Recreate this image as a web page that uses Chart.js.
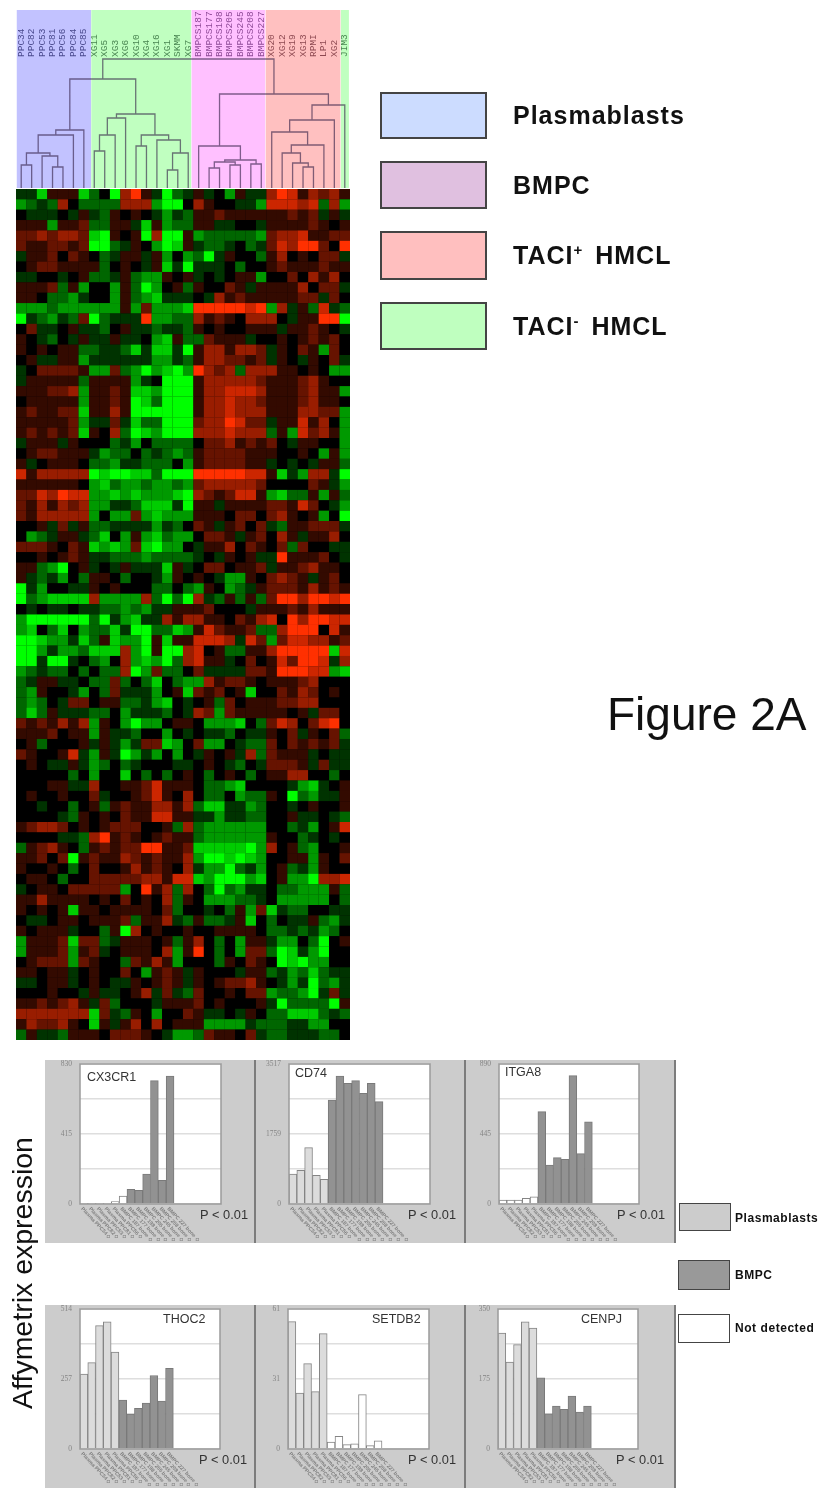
<!DOCTYPE html>
<html>
<head>
<meta charset="utf-8">
<title>Figure 2A</title>
<script src="https://cdn.jsdelivr.net/npm/chart.js@4"></script>
<style>
  html, body { margin: 0; padding: 0; background: #fff; }
  #page { position: relative; width: 818px; height: 1488px; overflow: hidden; font-family: "Liberation Sans", Arial, sans-serif; filter: blur(0.7px); }
  #page canvas { position: absolute; display: block; }
  .band { position: absolute; background: #ccc; }
  .rule { position: absolute; width: 1.5px; background: #7c7c7c; }
  .box { position: absolute; box-sizing: border-box; border: 2px solid #444; }
  .big { position: absolute; left: 513px; font-size: 25px; font-weight: bold; letter-spacing: 1px; word-spacing: 5px; line-height: 30px; color: #111; white-space: nowrap; }
  .big sup { font-size: 15px; line-height: 0; letter-spacing: 0; }
  .small { position: absolute; left: 735px; font-size: 12px; font-weight: bold; letter-spacing: 0.55px; line-height: 16px; color: #111; white-space: nowrap; }
  #figure { position: absolute; left: 607px; top: 686px; font-size: 46px; line-height: 56px; color: #111; white-space: nowrap; }
  #axisTitle { position: absolute; left: 22px; top: 1273px; font-size: 28.5px; line-height: 32px; color: #111; white-space: nowrap; transform: translate(-50%, -50%) rotate(-90deg); }
</style>
</head>
<body>
<div id="page">
  <div class="band" style="left:45px;top:1060px;width:630px;height:183px"></div>
  <div class="band" style="left:45px;top:1305px;width:630px;height:183px"></div>

  <canvas id="dendro" width="360" height="189" style="left:0;top:0"></canvas>
  <canvas id="heat" width="360" height="856" style="left:0;top:188px"></canvas>

  <div class="box" style="left:380px;top:92px;width:107px;height:47px;background:#ccdcff"></div>
  <div class="box" style="left:380px;top:161px;width:107px;height:48px;background:#e0c0e0"></div>
  <div class="box" style="left:380px;top:231px;width:107px;height:49px;background:#ffbfbf"></div>
  <div class="box" style="left:380px;top:302px;width:107px;height:48px;background:#bfffbf"></div>
  <div class="big" style="top:100px">Plasmablasts</div>
  <div class="big" style="top:170px">BMPC</div>
  <div class="big" style="top:240px">TACI<sup>+</sup> HMCL</div>
  <div class="big" style="top:311px">TACI<sup>-</sup> HMCL</div>
  <div id="figure">Figure 2A</div>
  <div id="axisTitle">Affymetrix expression</div>

  <canvas id="p1" width="209" height="183" style="left:45px;top:1060px"></canvas>
  <canvas id="p2" width="210" height="183" style="left:254px;top:1060px"></canvas>
  <canvas id="p3" width="211" height="183" style="left:464px;top:1060px"></canvas>
  <canvas id="p4" width="209" height="183" style="left:45px;top:1305px"></canvas>
  <canvas id="p5" width="210" height="183" style="left:254px;top:1305px"></canvas>
  <canvas id="p6" width="211" height="183" style="left:464px;top:1305px"></canvas>
  <div class="rule" style="left:254px;top:1060px;height:183px"></div>
  <div class="rule" style="left:464px;top:1060px;height:183px"></div>
  <div class="rule" style="left:674px;top:1060px;height:183px"></div>
  <div class="rule" style="left:254px;top:1305px;height:183px"></div>
  <div class="rule" style="left:464px;top:1305px;height:183px"></div>
  <div class="rule" style="left:674px;top:1305px;height:183px"></div>

  <div class="box" style="left:679px;top:1203px;width:52px;height:28px;background:#ccc;border-width:1.5px"></div>
  <div class="box" style="left:678px;top:1260px;width:52px;height:30px;background:#999;border-width:1.5px"></div>
  <div class="box" style="left:678px;top:1314px;width:52px;height:29px;background:#fff;border-width:1.5px"></div>
  <div class="small" style="top:1210px">Plasmablasts</div>
  <div class="small" style="top:1267px">BMPC</div>
  <div class="small" style="top:1320px">Not detected</div>
</div>

<script>
/* ===============================
   HEATMAP DATA (-5 green .. 5 red)
================================ */
const heatRowsTop = [
  [-1,-1,-4,1,1,1,-4,-2,0,-5,3,5,1,-1,-5,-2,-1,1,-1,0,-3,1,-1,-1,3,5,4,1,3,2,3,1],
  [-3,-2,-1,-2,3,0,-2,-2,-2,-2,3,3,3,-3,-5,-5,0,3,1,0,0,-1,-1,-3,4,4,4,3,4,-2,3,-3],
  [0,-1,-1,-1,0,-1,1,-1,-2,1,0,1,0,-1,-3,-1,-2,1,1,2,1,1,1,1,1,1,2,1,2,-1,1,-1],
  [1,1,1,-3,1,1,2,-2,-2,1,1,-1,-4,1,-3,-2,-2,1,1,-1,-1,0,0,-1,1,1,1,1,2,1,0,1],
  [2,2,3,2,3,3,2,-4,-5,1,0,1,-5,3,-5,-5,1,-3,-2,-2,-2,-2,-2,-3,2,3,3,4,1,1,2,2],
  [2,1,1,2,2,1,2,-5,-5,-2,-1,1,0,-3,-5,-4,1,-1,-2,-2,-1,0,-2,-1,2,4,3,5,5,2,0,5],
  [-1,1,1,2,0,2,1,0,-2,-1,1,1,-1,1,-3,0,-3,-2,-5,-1,1,0,0,-2,1,3,0,1,0,2,2,-1],
  [0,1,2,2,1,1,1,1,-2,0,1,0,-1,1,-4,-1,-5,-1,-1,-1,0,-2,0,0,1,2,1,1,1,2,1,1],
  [-1,-1,0,0,-1,0,1,-2,-2,-1,1,-2,-3,-3,1,0,1,-1,0,-1,0,1,1,-3,0,0,2,0,3,1,3,0],
  [1,1,1,2,-2,1,-3,0,0,-3,1,-2,-5,-3,0,1,-2,1,0,0,2,1,-1,1,1,1,1,3,0,2,2,-1],
  [1,1,0,-2,-2,-3,-1,0,0,-3,1,-2,-3,-4,-1,-1,-1,0,-1,3,1,2,1,1,1,1,1,2,2,-1,2,0],
  [-3,-3,-3,-2,-3,-3,-3,-3,-3,-3,1,-3,2,-3,-3,-3,-4,5,5,5,5,5,4,5,-3,3,-1,1,-2,4,-1,-2],
  [-5,-1,-2,-3,-1,-2,2,-5,-2,-1,-1,-1,5,-3,-3,-2,-2,3,1,2,1,0,3,3,3,0,-1,1,1,5,5,-5],
  [0,2,-1,-1,0,1,-1,-1,-2,0,1,-1,-1,-2,-1,-1,-2,1,0,1,0,0,1,1,1,-1,1,1,2,1,0,-1],
  [1,0,-1,-2,0,-1,1,-1,-1,1,-1,-1,0,-3,-4,1,-2,-2,2,1,1,1,-1,0,0,1,0,1,2,1,2,0],
  [1,0,1,0,1,1,-2,-2,-1,-1,-2,-4,-1,-4,-4,-1,-5,1,3,3,1,3,3,2,-1,1,0,2,1,-3,2,0],
  [0,1,-1,-1,1,1,-3,-1,-1,-1,-1,-1,-1,-3,-3,-1,-2,1,3,3,2,2,1,2,-1,1,0,-1,1,0,2,-1],
  [-1,0,2,2,2,2,1,-3,-3,2,-2,-3,-5,-3,-4,-5,-3,5,3,2,3,-2,3,3,3,1,1,0,1,0,-3,-3],
  [-1,1,1,1,1,1,-2,1,1,1,1,-3,-1,0,-5,-5,-5,1,3,3,3,3,3,2,1,1,1,2,3,1,0,0],
  [1,1,1,2,2,3,-3,1,1,2,1,-4,-4,-3,-5,-5,-5,1,3,3,4,4,4,3,1,1,1,2,3,1,1,-3],
  [0,1,1,1,1,1,-3,1,1,2,1,-5,-4,-2,-5,-5,-5,1,3,3,4,3,3,2,1,1,1,2,3,1,1,0],
  [1,2,1,1,2,2,-4,1,1,3,1,-5,-5,-5,-5,-5,-5,1,3,3,4,3,3,3,1,1,1,3,3,2,2,-3],
  [1,1,1,1,1,2,-3,-1,-1,2,-1,-4,-2,-2,-5,-5,-5,2,3,3,5,4,2,2,-1,1,1,4,1,3,0,-3],
  [1,2,1,2,1,2,-4,1,0,3,-2,-5,-4,-3,-5,-5,-5,3,3,3,4,3,3,3,-2,1,-3,4,2,3,1,-3],
  [-1,1,1,1,-1,1,0,0,0,-2,-1,-3,0,-2,-2,-2,-2,0,2,2,3,1,2,1,2,0,-1,1,1,0,0,-3],
  [0,1,2,2,1,1,1,-1,-3,-2,-2,0,-2,-1,-2,-3,-2,1,2,2,2,2,1,1,1,0,0,1,0,-3,1,-3],
  [1,-1,0,1,1,1,0,-2,-2,-3,-1,-1,-2,-2,-2,0,-3,1,2,2,2,2,1,1,-1,0,-1,0,-1,1,1,-2]
];
const heatRowsMiddle = [
  [4,1,3,3,3,3,3,-5,-4,-5,-5,-4,-4,-2,-5,-5,-5,5,5,5,5,5,4,4,1,-4,-1,-3,3,3,-1,-5],
  [1,1,1,1,1,1,0,-3,-4,-2,-3,-3,-2,-3,-3,-2,-3,2,3,3,3,3,3,2,0,0,0,0,2,1,-1,-3],
  [2,2,4,3,5,4,4,-3,-3,-4,-3,-4,-3,-3,-3,-4,-5,3,2,1,2,4,4,1,-3,-4,-2,-2,1,-3,1,-2],
  [2,1,3,1,3,2,3,-3,-3,-1,-1,-2,-4,-4,-4,-1,-5,1,1,-1,1,1,1,1,2,2,1,4,2,0,-1,-3],
  [2,1,3,3,3,3,3,-3,0,-3,-3,2,-3,-4,-3,-3,-3,1,1,1,0,2,2,0,2,3,1,0,1,-3,0,-5],
  [0,0,1,-1,2,-1,1,-2,-2,-1,-1,-1,-1,-3,-1,-2,0,2,1,-1,1,2,0,2,-1,-2,1,1,2,2,2,-1],
  [0,-3,-2,-1,1,1,-1,-2,-4,0,-3,1,-3,-4,-2,-3,-3,0,2,2,1,-1,1,2,0,3,1,-1,1,1,3,0],
  [2,2,2,1,0,2,1,-4,-3,-4,-3,2,-4,-5,-3,-3,0,-1,1,1,3,0,2,1,0,2,-2,2,0,0,-1,-1],
  [0,0,1,0,1,2,1,-1,-1,-2,-2,-2,-3,-2,-2,-2,-2,-1,0,-1,1,0,1,-1,-1,5,1,1,1,2,0,-1],
  [1,1,-2,-3,-5,0,1,-1,0,-1,1,-1,-1,-1,-4,1,-1,0,2,2,0,1,1,2,-1,1,1,2,3,1,1,0],
  [1,-1,-2,-1,-3,0,-2,1,1,0,-2,0,0,-1,-3,1,0,1,0,-1,-3,-3,1,0,2,3,2,1,-1,1,2,0],
  [-5,-1,-3,0,0,-1,-1,1,0,1,0,0,0,-2,-2,0,-2,-3,1,0,-3,-2,-1,1,2,2,2,1,3,1,2,1],
  [-5,-2,-3,-4,-4,-4,-4,3,-3,-3,-3,-3,3,-2,-5,-2,-5,3,-1,-2,1,-2,1,-2,2,5,5,3,5,5,4,5],
  [0,-1,0,-1,-1,0,-1,-1,-2,-2,-3,-2,-3,-1,-1,1,1,1,2,0,0,0,-1,1,1,1,2,1,3,1,1,1],
  [-3,-5,-5,-5,-5,-5,-5,-2,-5,-1,-3,-4,-1,-1,3,1,3,3,1,1,0,2,1,3,4,0,5,3,5,5,4,4],
  [-3,-4,0,-2,-4,0,-3,-2,-2,-4,-1,-5,-5,-2,-2,-4,-3,1,4,2,1,1,2,-2,-2,3,5,5,5,0,4,1],
  [-5,-5,-4,-3,-3,-1,-4,-2,1,-4,-3,-3,-5,1,-4,1,1,4,4,4,3,-1,4,2,-3,2,4,4,3,3,1,2],
  [-5,-5,-3,-1,-3,-3,-2,-4,-4,-4,3,-3,-5,1,-5,-5,3,4,0,1,-2,-2,1,1,3,5,5,5,5,5,-4,4],
  [-5,-5,-1,-5,-5,-1,0,-2,-3,0,3,-3,-4,-3,-5,-2,3,4,1,1,-1,0,2,0,1,4,2,5,5,4,-1,3],
  [-3,-2,-1,-2,-2,0,-2,0,-2,-2,3,-5,-3,2,-2,-2,0,2,-1,-1,-1,-1,2,2,1,5,5,5,4,4,-3,-4],
  [-2,-1,1,1,-1,-1,0,-2,-2,2,-2,0,-2,-4,0,-2,-3,-3,3,1,2,2,1,0,1,1,1,2,3,0,0,0],
  [-2,-3,1,0,0,-1,-3,0,-2,2,-1,-1,-1,-3,0,1,-4,2,1,2,0,1,-4,0,0,2,1,3,2,0,1,0],
  [-2,-3,-2,0,-1,2,2,0,1,1,-2,-2,-1,-3,-4,0,-1,0,1,-2,2,0,1,1,1,2,2,3,3,0,0,0],
  [-2,-4,-2,1,-1,-1,-1,-2,-2,0,-3,-1,-1,-1,-2,0,-1,3,2,-3,2,1,1,1,1,1,0,1,-1,2,2,0],
  [2,1,2,1,3,1,3,-3,1,0,-3,-5,-3,-3,0,1,1,0,-3,-3,-3,-4,0,-2,2,4,3,0,2,4,5,0],
  [1,1,1,2,0,1,1,-3,1,-1,-1,-2,0,0,-3,0,-1,0,-1,-1,-2,0,-1,-1,1,0,2,-1,1,0,2,-2],
  [0,1,-2,0,0,0,1,-1,1,-1,-3,-1,2,2,-4,-3,0,2,-3,-3,0,-1,-2,-2,2,0,2,1,2,1,2,-1]
];
const heatRowsBottom = [
  [2,1,0,0,1,4,-1,-3,1,-1,-5,-3,-1,-3,0,-3,0,-1,1,0,1,-1,3,-2,2,1,1,1,-1,0,-1,-1],
  [0,1,0,-1,-1,1,-1,-3,-2,0,-2,-1,0,0,0,-1,-1,0,1,0,-1,-2,0,-1,2,2,2,1,-1,2,-1,-1],
  [0,0,0,0,0,-2,0,-3,0,0,-4,0,-2,0,-2,0,1,0,-2,0,1,0,-2,0,1,1,3,3,0,0,-2,0],
  [0,0,0,1,1,-1,-1,3,0,0,1,1,2,4,1,1,1,0,-2,-2,-3,-4,0,0,0,0,-1,-3,-4,-1,0,1],
  [0,1,0,0,1,0,0,2,-1,0,0,1,2,4,1,0,3,0,-2,-2,0,-3,-2,-2,1,0,-5,-2,-3,-1,-1,1],
  [0,0,-1,0,0,-2,0,1,-2,1,2,1,1,3,3,1,3,-2,-4,-4,-1,-1,-3,-2,0,0,-1,0,1,0,0,1],
  [0,0,0,0,-1,-2,1,0,1,0,2,1,1,4,4,1,1,-1,-1,-3,-1,-1,-2,-2,0,0,1,-1,-1,0,-1,-2],
  [1,2,3,3,2,0,1,0,1,2,2,2,0,0,1,-2,3,-2,-3,-3,-3,-3,-3,-3,0,0,-2,-1,-3,0,1,4],
  [0,0,0,0,-1,-1,-2,3,5,1,2,1,0,1,2,1,1,-2,-3,-3,-3,-3,-3,-3,1,0,0,-2,-1,0,-1,0],
  [-2,1,2,3,1,0,-2,1,2,1,2,2,5,5,1,1,2,-4,-4,-4,-4,-4,-5,-3,3,0,1,-2,-3,0,0,1],
  [1,1,2,0,2,-5,1,2,1,1,3,2,1,2,1,1,3,-3,-5,-5,-4,-5,-4,-3,0,0,1,1,-3,1,0,2],
  [1,0,0,1,0,-2,0,2,0,0,1,3,1,2,1,0,3,-1,-3,-3,-5,-2,-1,-3,0,1,-2,-1,-3,1,0,0],
  [0,1,1,0,-2,0,0,2,2,2,2,2,3,3,1,4,4,-4,-3,-5,-5,-5,-3,-4,0,1,-3,-3,-5,3,3,4],
  [-1,0,1,1,0,2,2,2,2,2,-3,0,5,1,3,-2,3,0,-2,-5,-2,-3,-1,-1,0,-2,-2,-3,-3,-3,1,-2],
  [1,1,3,1,1,1,1,0,1,0,2,0,1,0,3,-2,1,0,-3,-3,-3,-2,-2,-1,0,-3,-3,-3,-3,-3,0,-2],
  [1,0,1,0,1,-4,1,1,0,1,1,1,1,0,2,-2,0,0,-1,0,-2,1,-3,2,-4,-1,-2,-2,0,0,-1,-1],
  [0,-1,-1,0,1,1,0,1,1,1,2,-2,1,1,3,-1,-2,1,-2,-2,-1,1,-4,0,-2,0,-1,-1,1,-2,-3,-1],
  [1,0,1,1,1,-1,0,0,-2,1,-5,3,0,1,0,0,1,0,0,1,1,1,1,0,-2,-2,-1,-2,-1,-3,-2,0],
  [-3,1,1,1,2,-4,2,2,-2,-1,1,1,1,0,1,-2,1,3,0,-2,0,-3,1,1,-1,-3,-3,0,-2,-5,0,1],
  [-3,1,1,1,2,-3,1,2,-1,0,1,1,1,0,3,-3,1,5,0,-2,0,-3,2,2,-2,-5,-4,-1,-3,-5,0,0],
  [0,1,2,2,2,-3,2,1,0,0,-2,2,1,3,1,-3,0,0,0,-2,1,0,2,1,0,-5,-4,-5,-3,-3,0,0],
  [1,1,0,1,1,-1,0,1,0,0,2,0,-3,1,2,1,-1,1,0,0,0,-1,1,1,-2,-1,-3,-2,-4,-2,-1,-1],
  [-1,-1,0,1,1,-1,0,1,0,-1,-1,1,0,1,2,1,-1,1,0,1,2,2,3,1,0,-1,-3,-1,-5,-2,-3,-1],
  [0,0,0,1,0,0,-1,1,-1,-1,0,1,3,-1,2,-1,-2,2,0,0,1,0,2,2,-3,-2,-2,-3,-5,-1,2,-1],
  [1,1,2,1,2,3,1,-1,2,-2,0,0,0,-1,1,1,1,2,0,1,0,0,0,1,-1,-5,-2,-2,-2,-2,-5,1],
  [3,3,3,3,3,3,3,-4,2,-1,-2,1,0,-3,0,0,2,1,-1,-1,0,-1,1,0,-2,-2,-4,-4,-4,-2,-1,-2],
  [1,3,2,2,3,1,0,-4,1,-1,1,3,0,3,0,1,1,1,-3,-3,-3,-3,-1,-2,-2,-2,-1,-1,-3,-3,0,0],
  [-2,1,-1,-1,-2,1,1,1,0,2,2,2,1,0,-1,-3,-3,-2,2,1,1,0,2,-1,-2,-2,-1,-1,-1,-2,-2,0]
];

/* ===============================
   DENDROGRAM DATA
================================ */
const leafNames = [
  "PPC34","PPC82","PPC53","PPC81","PPC56","PPC84","PPC85",
  "XG11","XG5","XG3","XG6","XG10","XG4","XG16","XG1","SKMM","XG7",
  "BMPCS187","BMPCS177","BMPCS198","BMPCS205","BMPCS245","BMPCS208","BMPCS227",
  "XG20","XG12","XG19","XG13","RPMI","LP1","XG2","JIM3"
];
const leafGroups = [0,0,0,0,0,0,0, 1,1,1,1,1,1,1,1,1,1, 2,2,2,2,2,2,2, 3,3,3,3,3,3,3, 1];
// [left child, right child, height]; a child of 100+ is an earlier merge
const dendroMerges = [
  [0,1,23],[3,4,21],[2,101,32],[100,102,35],[103,5,53],[104,6,58],
  [7,8,37],[106,9,53],[107,10,70],[11,12,42],[14,15,18],[110,16,35],
  [13,111,48],[109,112,53],[108,113,74],[105,114,109],
  [18,19,20],[20,21,23],[116,117,26],[22,23,24],[118,119,28],[17,120,42],
  [27,28,21],[26,122,25],[25,123,35],[124,29,43],[24,125,56],[126,30,68],
  [127,31,83],[121,128,94],[115,129,129]
];
const bandEdges = [0.05, 7.2, 16.8, 23.9, 31.1, 31.9];
const bandColors = ["#c2c2ff", "#c0ffc0", "#ffc0ff", "#ffc0c0", "#c0ffc0"];
const leafLabelColors = ["rgba(50,50,120,.85)", "rgba(50,110,60,.85)", "rgba(120,50,130,.85)", "rgba(120,50,60,.85)"];

/* ===============================
   BAR PANEL DATA
================================ */
const sampleLabels = [
  "Plasma PPC34 ◇","Plasma PPC82 ◇","Plasma PPC53 ◇","Plasma PPC81 ◇","Plasma PPC56 ◇",
  "BMPC 187 bone ◇","BMPC 177 bone ◇","BMPC 198 bone ◇","BMPC 205 bone ◇",
  "BMPC 245 bone ◇","BMPC 208 bone ◇","BMPC 227 bone ◇",
  "","","","","",""
];
const cx3cr1Values = [1,1,1,1,14,47,87,81,178,731,140,759];
const cd74Values = [754,846,1415,720,620,2613,3216,3031,3098,2780,3031,2571];
const itga8Values = [25,25,25,36,45,587,248,295,284,816,320,523];
const thoc2Values = [275,317,453,467,356,180,128,149,169,270,176,296];
const setdb2Values = [55.5,24.4,37.2,25,50.3,3,5.5,1.9,2.2,23.7,1.5,3.6];
const cenpjValues = [290,217,261,318,302,178,88,107,99,132,92,107];

const cx3cr1Calls = "NNNNNNBBBBBB".split("");
const cd74Calls = "PPPPPBBBBBBB".split("");
const itga8Calls = "NNNNNBBBBBBB".split("");
const thoc2Calls = "PPPPPBBBBBBB".split("");
const setdb2Calls = "PPPPPNNNNNNN".split("");
const cenpjCalls = "PPPPPBBBBBBB".split("");

const callFill = { P: "#dcdcdc", B: "#929292", N: "#ffffff" };
const callEdge = { P: "#858585", B: "#7a7a7a", N: "#858585" };

/* ===============================
   HEATMAP
================================ */
const heatRows = [...heatRowsTop, ...heatRowsMiddle, ...heatRowsBottom];

function heatColor(v) {
  const t = Math.abs(v) / 5;
  if (v < 0) return `rgb(0,${Math.round(255 * t)},0)`;
  return `rgb(${Math.round(255 * t)},${Math.round(48 * t)},0)`;
}

new Chart(document.getElementById("heat"), {
  type: "scatter",
  data: {
    datasets: [{
      data: heatRows.flatMap((row, r) => row.map((v, c) => ({ x: c + 0.5, y: r + 0.5, v }))),
      pointStyle: "rect",
      pointRadius: 7.45,
      pointBorderWidth: 0,
      backgroundColor: (ctx) => heatColor(ctx.raw ? ctx.raw.v : 0),
    }],
  },
  options: {
    responsive: false,
    animation: false,
    layout: { autoPadding: false, padding: { left: 16, right: 10, top: 1, bottom: 4 } },
    plugins: { legend: { display: false }, tooltip: { enabled: false } },
    scales: {
      x: { type: "linear", min: 0, max: 32, display: false },
      y: { type: "linear", min: 0, max: heatRows.length, reverse: true, display: false },
    },
  },
  plugins: [{
    id: "heatBackground",
    beforeDatasetsDraw(chart) {
      const a = chart.chartArea;
      chart.ctx.fillStyle = "#000";
      chart.ctx.fillRect(a.left, a.top, a.width, a.height);
    },
  }],
});

/* ===============================
   DENDROGRAM
================================ */
function nodeInfo(ref, placed) {
  if (ref < 100) return { x: ref + 0.5, h: 0 };
  return placed[ref - 100];
}

function dendroSegments() {
  const placed = [];
  const points = [];
  dendroMerges.forEach(([a, b, h]) => {
    const left = nodeInfo(a, placed);
    const right = nodeInfo(b, placed);
    points.push(
      { x: left.x, y: left.h },
      { x: left.x, y: h },
      { x: right.x, y: h },
      { x: right.x, y: right.h },
      { x: NaN, y: NaN }
    );
    placed.push({ x: (left.x + right.x) / 2, h });
  });
  return points;
}

const bandDatasets = bandColors.map((color, i) => ({
  type: "line",
  data: [{ x: bandEdges[i], y: 178 }, { x: bandEdges[i + 1], y: 178 }],
  backgroundColor: color,
  borderWidth: 0,
  pointRadius: 0,
  fill: "origin",
  order: 2,
}));

new Chart(document.getElementById("dendro"), {
  type: "scatter",
  data: {
    datasets: [
      ...bandDatasets,
      {
        type: "line",
        data: dendroSegments(),
        borderColor: "rgba(50,30,70,.62)",
        borderWidth: 1.3,
        pointRadius: 0,
        spanGaps: false,
        fill: false,
        order: 1,
      },
    ],
  },
  options: {
    responsive: false,
    animation: false,
    layout: { autoPadding: false, padding: { left: 16, right: 10, top: 10, bottom: 1 } },
    plugins: { legend: { display: false }, tooltip: { enabled: false } },
    scales: {
      x: { type: "linear", min: 0, max: 32, display: false },
      y: { type: "linear", min: 0, max: 178, display: false },
    },
  },
  plugins: [{
    id: "leafLabels",
    afterDatasetsDraw(chart) {
      const { ctx, scales } = chart;
      ctx.save();
      ctx.font = "9.5px 'Liberation Mono', monospace";
      ctx.textAlign = "left";
      ctx.textBaseline = "middle";
      leafNames.forEach((name, i) => {
        ctx.save();
        ctx.translate(scales.x.getPixelForValue(i + 0.5), scales.y.getPixelForValue(131));
        ctx.rotate(-Math.PI / 2);
        ctx.fillStyle = leafLabelColors[leafGroups[i]];
        ctx.fillText(name, 0, 0);
        ctx.restore();
      });
      ctx.restore();
    },
  }],
});

/* ===============================
   BAR PANELS
================================ */
function makePanel(canvasId, gene, values, calls, axisMax, box, geneSpot, pSpot) {
  new Chart(document.getElementById(canvasId), {
    type: "bar",
    data: {
      labels: sampleLabels,
      datasets: [{
        data: values,
        backgroundColor: calls.map((c) => callFill[c]),
        borderColor: calls.map((c) => callEdge[c]),
        borderWidth: 1,
        barPercentage: 1,
        categoryPercentage: 1,
      }],
    },
    options: {
      responsive: false,
      animation: false,
      layout: { autoPadding: false, padding: { left: 0, right: box.right, top: 4, bottom: 39 } },
      plugins: { legend: { display: false }, tooltip: { enabled: false } },
      scales: {
        x: { display: false },
        y: {
          min: 0,
          max: axisMax,
          afterFit(scale) {
            scale.width = box.left;
            // tick padding would otherwise push the plot area down
            scale.paddingTop = 0;
            scale.paddingBottom = 0;
          },
          afterBuildTicks(scale) {
            scale.ticks = [0, 1, 2, 3, 4].map((k) => ({ value: (axisMax * k) / 4 }));
          },
          border: { display: false },
          grid: { color: "#dedede", lineWidth: 1.5, drawTicks: false },
          ticks: {
            padding: 8,
            color: "#858585",
            font: { family: "'Liberation Serif', serif", size: 7.5 },
            callback: (v, i) => (i % 2 === 0 ? String(Math.round(v)) : ""),
          },
        },
      },
    },
    plugins: [{
      id: "panelDecor",
      beforeDraw(chart) {
        const a = chart.chartArea;
        chart.ctx.fillStyle = "#fff";
        chart.ctx.fillRect(a.left, a.top, a.width, a.height);
      },
      afterDraw(chart) {
        const { ctx, chartArea: a, scales } = chart;
        ctx.save();
        ctx.strokeStyle = "#9a9a9a";
        ctx.lineWidth = 1.5;
        ctx.strokeRect(a.left, a.top, a.width, a.height);

        ctx.fillStyle = "#333";
        ctx.textBaseline = "middle";
        ctx.font = "12.5px 'Liberation Sans', Arial, sans-serif";
        ctx.textAlign = "left";
        ctx.fillText(gene, a.left + geneSpot[0], a.top + geneSpot[1]);
        ctx.font = "12.8px 'Liberation Sans', Arial, sans-serif";
        ctx.fillText("P < 0.01", a.left + pSpot, a.bottom + 11);

        // sample names run down and to the right, which ticks cannot do
        ctx.fillStyle = "#808080";
        ctx.font = "bold 5.2px 'Liberation Sans', Arial, sans-serif";
        sampleLabels.forEach((name, i) => {
          if (!name) return;
          ctx.save();
          ctx.translate(scales.x.getPixelForValue(i) - 2, a.bottom + 4);
          ctx.rotate((47 * Math.PI) / 180);
          ctx.fillText(name, 0, 0);
          ctx.restore();
        });
        ctx.restore();
      },
    }],
  });
}

makePanel("p1", "CX3CR1", cx3cr1Values, cx3cr1Calls, 830, { left: 35, right: 33 }, [7, 14], 120);
makePanel("p2", "CD74", cd74Values, cd74Calls, 3517, { left: 35, right: 34 }, [6, 10], 119);
makePanel("p3", "ITGA8", itga8Values, itga8Calls, 890, { left: 35, right: 36 }, [6, 9], 118);
makePanel("p4", "THOC2", thoc2Values, thoc2Calls, 514, { left: 35, right: 34 }, [83, 11], 119);
makePanel("p5", "SETDB2", setdb2Values, setdb2Calls, 61, { left: 34, right: 35 }, [84, 11], 120);
makePanel("p6", "CENPJ", cenpjValues, cenpjCalls, 350, { left: 34, right: 37 }, [83, 11], 118);
</script>
</body>
</html>
